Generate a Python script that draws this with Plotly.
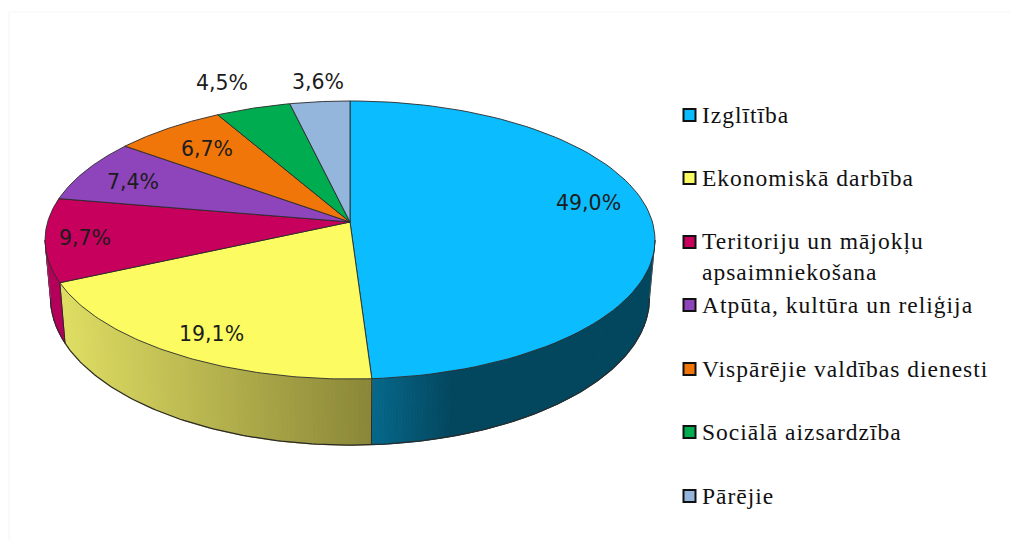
import math
import numpy as np
import plotly.graph_objects as go

# ---- data ----
categories = ["Izglītība", "Ekonomiskā darbība", "Teritoriju un mājokļu<br>apsaimniekošana",
              "Atpūta, kultūra un reliģija", "Vispārējie valdības dienesti",
              "Sociālā aizsardzība", "Pārējie"]
values = [49.0, 19.1, 9.7, 7.4, 6.7, 4.5, 3.6]
colors = ["#0BBCFF", "#FCFC62", "#C6005C", "#8E44BB", "#F0760A", "#00AC50", "#94B6DC"]
value_labels = ["49,0%", "19,1%", "9,7%", "7,4%", "6,7%", "4,5%", "3,6%"]

# ---- layout of the drawing (page pixels) ----
W, H = 1010, 540
CX, CY = 350, 222
A, B, K = 136.7, 302.4, 0.1295      # perspective projection of the disc
SX, SY, DROP = 0.982, 1.058, 57     # lower rim relative to the upper one
label_pos = [(588, 203), (211, 334), (85, 238), (133, 182), (207, 149), (222, 83), (318, 82)]
legend_y = [115, 178, 242, 305, 369, 432, 496]
LINE = "#2A2A2A"


def top(theta, r=1.0):
    t = np.radians(theta)
    d = 1 + K * np.cos(t) * r
    return CX + B * r * np.sin(t) / d, CY - A * r * np.cos(t) / d


def bottom(theta):
    x, y = top(theta)
    return CX + (x - CX) * SX, CY + DROP + (y - CY) * SY


def mix(c1, c2, t):
    a = [int(c1[i:i + 2], 16) for i in (1, 3, 5)]
    b = [int(c2[i:i + 2], 16) for i in (1, 3, 5)]
    return "rgb(%d,%d,%d)" % tuple(round(p + (q - p) * t) for p, q in zip(a, b))


total = sum(values)
edges = np.concatenate([[0], np.cumsum(values)]) * 360 / total
sil_r = math.degrees(math.acos(-K))
sil_l = 360 - sil_r

fig = go.Figure()


def poly(xs, ys, fill, line=None, width=1):
    fig.add_trace(go.Scatter(x=list(xs), y=list(ys), mode="lines", fill="toself", fillcolor=fill,
                             line=dict(color=line or fill, width=width), hoverinfo="skip",
                             showlegend=False))


def stroke(xs, ys, width=1.0, color=LINE):
    fig.add_trace(go.Scatter(x=list(xs), y=list(ys), mode="lines", line=dict(color=color, width=width),
                             hoverinfo="skip", showlegend=False))


def side_band(t0, t1, colour_at, steps):
    grid = np.linspace(t0, t1, steps + 1)
    for a, b in zip(grid[:-1], grid[1:]):
        arc = np.linspace(a, b, 4)
        xt, yt = top(arc)
        xb, yb = bottom(arc[::-1])
        poly(np.r_[xt, xb, xt[0]], np.r_[yt, yb, yt[0]], colour_at((a + b) / 2))


def blue_side(th):
    x = top(th)[0]
    return mix("#03475F", "#06688B", min(1, max(0, (450 - x) / 78)))


def yellow_side(th):
    x = top(th)[0]
    return mix("#8A8638", "#DEDD62", min(1, max(0, (372 - x) / 309)))


# side wall
grid = np.linspace(sil_r, edges[1], 400)
th_dark = grid[np.argmin(np.abs(top(grid)[0] - 450))]
side_band(sil_r, th_dark, lambda th: "#03475F", 6)
side_band(th_dark, edges[1], blue_side, 26)
side_band(edges[1], edges[2], yellow_side, 90)
side_band(edges[2], sil_l, lambda th: "#B4005A", 4)

# side wall outlines
arc = np.linspace(sil_r, sil_l, 220)
stroke(*bottom(arc), width=1.2)
for th in (edges[1], edges[2]):
    stroke([top(th)[0], bottom(th)[0]], [top(th)[1], bottom(th)[1]], width=1.0)
for th in (sil_r, sil_l):
    stroke([top(th)[0], bottom(th)[0]], [top(th)[1], bottom(th)[1]], width=0.8, color="#555555")

# top face
for i, col in enumerate(colors):
    arc = np.linspace(edges[i], edges[i + 1], 90)
    x, y = top(arc)
    poly(np.r_[CX, x, CX], np.r_[CY, y, CY], col, line=LINE, width=0.9)

# value labels
annotations = [dict(x=p[0], y=p[1], text=t, showarrow=False, xanchor="center", yanchor="middle",
                    font=dict(family="DejaVu Sans", size=20.5, color="#1C1C1C"))
               for p, t in zip(label_pos, value_labels)]

# legend
fig.add_trace(go.Scatter(x=[689.5] * len(categories), y=legend_y, mode="markers",
                         marker=dict(symbol="square", size=12, color=colors,
                                     line=dict(color="#111111", width=2)),
                         hoverinfo="skip", showlegend=False))
for name, y in zip(categories, legend_y):
    annotations.append(dict(x=700, y=y, text=name, showarrow=False, xanchor="left",
                            yanchor="top" if "<br>" in name else "middle", align="left",
                            yshift=16 if "<br>" in name else 0,
                            font=dict(family="Liberation Serif", size=23.5, color="#111111")))

fig.update_layout(
    width=W, height=H, margin=dict(l=0, r=0, t=0, b=0),
    paper_bgcolor="white", plot_bgcolor="white", showlegend=False,
    xaxis=dict(range=[0, W], visible=False, fixedrange=True),
    yaxis=dict(range=[H, 0], visible=False, fixedrange=True),
    annotations=annotations,
    shapes=[dict(type="line", x0=9, x1=9, y0=12, y1=H, line=dict(color="#F1F4FA", width=1)),
            dict(type="line", x0=9, x1=W, y0=12, y1=12, line=dict(color="#F4F6FA", width=1))],
)

post = """
document.body.style.margin='0';document.body.style.overflow='hidden';
document.querySelectorAll('.annotation-text').forEach(function(t){
  if ((t.style.fontFamily||'').indexOf('Liberation Serif')>=0){ t.style.letterSpacing='1px'; }
});
"""
fig.write_html("out.html", config={"displayModeBar": False}, post_script=post)
